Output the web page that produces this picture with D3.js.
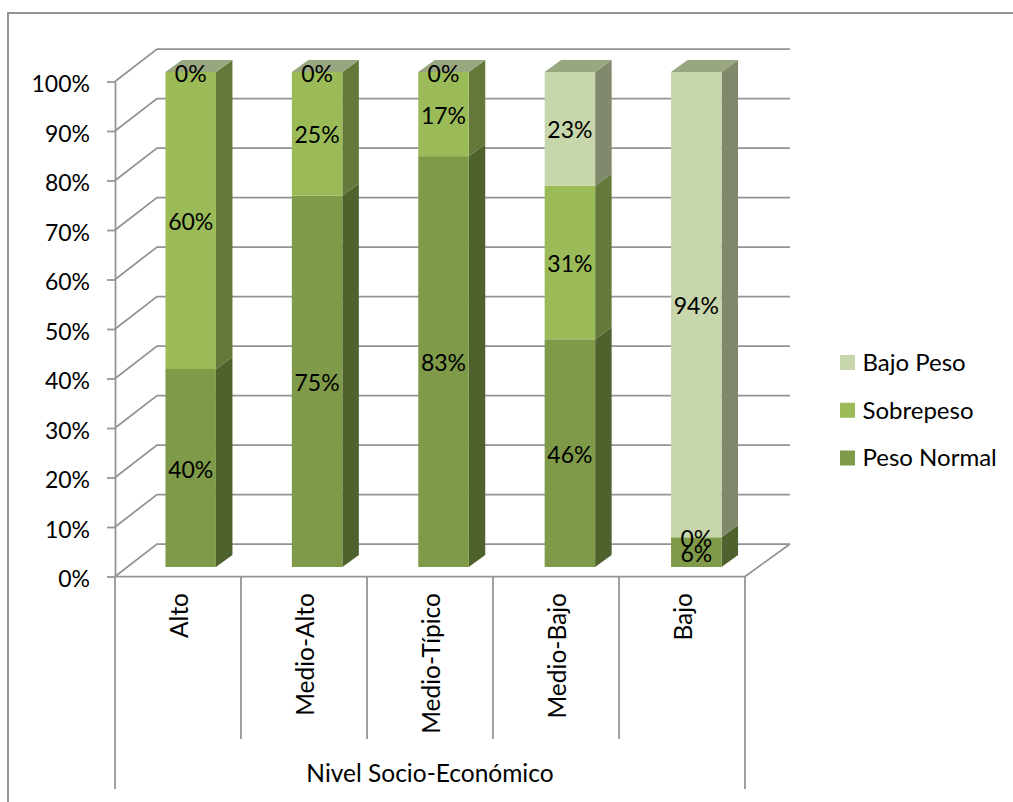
<!DOCTYPE html>
<html>
<head>
<meta charset="utf-8">
<script src="https://cdn.jsdelivr.net/npm/d3@7/dist/d3.min.js"></script>
<style>
    html, body { margin: 0; padding: 0; background: #fff; }
    svg { display: block; }
    text { font-family: Lato, sans-serif; font-size: 23px; fill: #000; }
</style>
</head>
<body>
<svg id="chart" width="1013" height="802"></svg>
<script>
/* values */
const categories = ['Alto', 'Medio-Alto', 'Medio-Típico', 'Medio-Bajo', 'Bajo'];
const seriesNames = ['Peso Normal', 'Sobrepeso', 'Bajo Peso'];
const pesoNormal = [40, 75, 83, 46, 6];
const sobrepeso = [60, 25, 17, 31, 0];
const bajoPeso = [0, 0, 0, 23, 94];
const yTicks = [0, 10, 20, 30, 40, 50, 60, 70, 80, 90, 100];
const axisTitle = 'Nivel Socio-Económico';

const seriesValues = [pesoNormal, sobrepeso, bajoPeso];
const colors = [
    { front: '#7f9a48', side: '#4f622d' },
    { front: '#9bbb59', side: '#64783a' },
    { front: '#c8d6ac', side: '#80896b' }
];
const topColor = '#99a781';
const gridColor = '#939393';

const svg = d3.select('#chart');

/* outer chart frame, runs off the picture at right and bottom */
svg.append('path')
    .attr('d', 'M8,802V13H1013')
    .attr('fill', 'none')
    .attr('stroke', gridColor)
    .attr('stroke-width', 2);

/* scales of the front plane; the bars sit a bit wider because of the perspective */
const xScale = d3.scaleBand().domain(categories).range([115, 745]);
const barScale = d3.scaleBand().domain(categories).range([115, 747]);
const yScale = d3.scaleLinear().domain([0, 100]).range([576.5, 81.5]);

/* oblique offsets: back wall, and front/back of the bars */
const wall = { dx: 42, dy: -32.5 };
const barFront = { dx: 12.5, dy: -9.5 };
const barBack = { dx: 29, dy: -21.5 };
const barWidth = 50.5;

/* gridlines: slanted on the side wall and straight on the back wall */
const grid = svg.append('g')
    .attr('fill', 'none')
    .attr('stroke', gridColor)
    .attr('stroke-width', 1.75);

grid.selectAll('path')
    .data(yTicks)
    .join('path')
    .attr('d', d => {
        const y = yScale(d);
        return `M115,${y}L${115 + wall.dx},${y + wall.dy}H${745 + wall.dx + 3}`;
    });

/* floor right edge */
grid.append('path')
    .attr('d', `M745,${yScale(0)}L${745 + wall.dx + 3},${yScale(0) + wall.dy}`);

/* bars */
const bars = svg.append('g');
categories.forEach((cat, i) => {
    const x0 = barScale(cat) + barScale.bandwidth() / 2 + barFront.dx - barWidth / 2;
    const x1 = x0 + barWidth;
    const sideDx = barBack.dx - barFront.dx;
    const sideDy = barBack.dy - barFront.dy;
    let acc = 0;
    seriesValues.forEach((values, s) => {
        const v = values[i];
        const yB = yScale(acc) + barFront.dy;
        const yT = yScale(acc + v) + barFront.dy;
        acc += v;
        if (v === 0) return;
        bars.append('path')
            .attr('d', `M${x1},${yB}L${x1 + sideDx},${yB + sideDy}V${yT + sideDy}L${x1},${yT}Z`)
            .attr('fill', colors[s].side);
        bars.append('rect')
            .attr('x', x0)
            .attr('y', yT)
            .attr('width', barWidth)
            .attr('height', yB - yT)
            .attr('fill', colors[s].front);
    });
    const yTop = yScale(acc) + barFront.dy;
    bars.append('path')
        .attr('d', `M${x0},${yTop}L${x0 + sideDx},${yTop + sideDy}H${x1 + sideDx}L${x1},${yTop}Z`)
        .attr('fill', topColor);
});

/* data labels, on top of the bars */
const labels = svg.append('g').attr('text-anchor', 'middle');
categories.forEach((cat, i) => {
    const cx = barScale(cat) + barScale.bandwidth() / 2 + barFront.dx;
    let acc = 0;
    seriesValues.forEach(values => {
        const v = values[i];
        labels.append('text')
            .attr('x', cx)
            .attr('y', yScale(acc + v / 2) + barFront.dy + 1.5)
            .attr('dy', '0.35em')
            .text(v + '%');
        acc += v;
    });
});

/* y axis */
const yAxis = d3.axisLeft(yScale)
    .tickValues(yTicks)
    .tickSize(8)
    .tickSizeOuter(0)
    .tickPadding(17)
    .tickFormat(d => d + '%');
const yG = svg.append('g').attr('transform', 'translate(115,0)').call(yAxis);
yG.selectAll('line, path').attr('stroke', gridColor).attr('stroke-width', 1.75);
yG.selectAll('text')
    .attr('dy', '0.4em')
    .attr('y', 1)
    .style('font-family', 'Lato, sans-serif')
    .style('font-size', '23px');

/* category axis with two levels */
const catAxis = svg.append('g')
    .attr('stroke', gridColor)
    .attr('stroke-width', 1.75);
catAxis.append('line')
    .attr('x1', 115).attr('x2', 745)
    .attr('y1', yScale(0)).attr('y2', yScale(0));
categories.slice(1).forEach(cat => {
    catAxis.append('line')
        .attr('x1', xScale(cat)).attr('x2', xScale(cat))
        .attr('y1', yScale(0)).attr('y2', 739);
});
[115, 745].forEach(x => {
    catAxis.append('line')
        .attr('x1', x).attr('x2', x)
        .attr('y1', yScale(0)).attr('y2', 789);
});

svg.append('g').selectAll('text')
    .data(categories)
    .join('text')
    .attr('text-anchor', 'end')
    .attr('transform', d => `translate(${xScale(d) + xScale.bandwidth() / 2 + 1},593) rotate(-90)`)
    .attr('dy', '0.35em')
    .style('font-size', '24.5px')
    .text(d => d);

svg.append('text')
    .attr('x', 430)
    .attr('y', 773)
    .attr('dy', '0.35em')
    .attr('text-anchor', 'middle')
    .style('font-size', '24.5px')
    .text(axisTitle);

/* legend, top to bottom is reversed series order */
const legendY = d3.scalePoint()
    .domain(seriesNames.slice().reverse())
    .range([362.5, 458]);
const legend = svg.append('g').selectAll('g')
    .data(seriesNames)
    .join('g')
    .attr('transform', d => `translate(840,${legendY(d)})`);
legend.append('rect')
    .attr('x', 0).attr('y', -7.5)
    .attr('width', 15).attr('height', 15)
    .attr('fill', (d, i) => colors[i].front);
legend.append('text')
    .attr('x', 22.5)
    .attr('dy', '0.35em')
    .style('font-size', '24px')
    .text(d => d);
</script>
</body>
</html>
